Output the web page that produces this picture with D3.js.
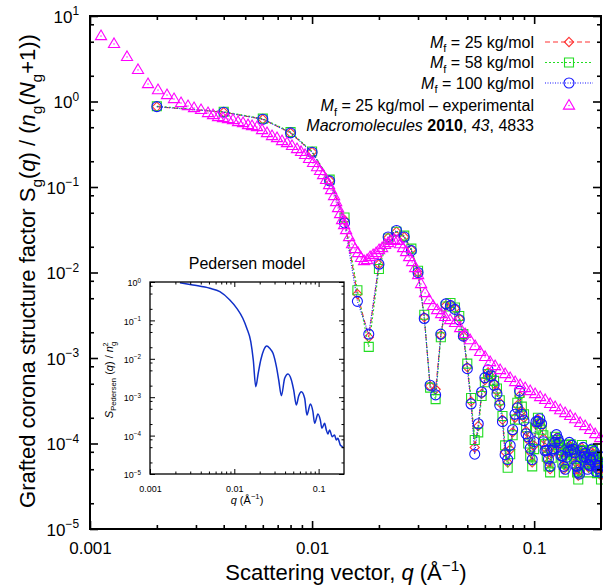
<!DOCTYPE html>
<html>
<head>
<meta charset="utf-8">
<script src="https://cdn.jsdelivr.net/npm/d3@7"></script>
<style>
  body { margin: 0; background: #fff; }
  svg { display: block; font-family: "Liberation Sans", Arial, Helvetica, sans-serif; }
</style>
</head>
<body>
<svg id="chart" width="603" height="587"></svg>
<script>
// ---- Simulated grafted-corona structure factor, q in 1/Å ----
const qSim = [
  0.002, 0.004, 0.006, 0.008, 0.010, 0.012, 0.014, 0.016, 0.018, 0.020,
  0.022, 0.024, 0.026, 0.028, 0.030, 0.032, 0.034, 0.036, 0.038, 0.040,
  0.042, 0.044, 0.046, 0.048, 0.050, 0.052, 0.054, 0.056, 0.058, 0.060,
  0.062, 0.064, 0.066, 0.068, 0.070, 0.072, 0.074, 0.076, 0.078, 0.080,
  0.082, 0.084, 0.086, 0.088, 0.090, 0.092, 0.094, 0.096, 0.098, 0.100,
  0.102, 0.104, 0.106, 0.108, 0.110, 0.112, 0.114, 0.116, 0.118, 0.120,
  0.122, 0.124, 0.126, 0.128, 0.130, 0.132, 0.134, 0.136, 0.138, 0.140,
  0.142, 0.144, 0.146, 0.148, 0.150, 0.152, 0.154, 0.156, 0.158, 0.160,
  0.162, 0.164, 0.166, 0.168, 0.170, 0.172, 0.174, 0.176, 0.178, 0.180,
  0.182, 0.184, 0.186, 0.188, 0.190, 0.192, 0.194, 0.196, 0.198, 0.200
];
const sM25 = [
  0.87, 0.75, 0.62, 0.43, 0.257, 0.119, 0.041, 5.6e-3, 1.75e-3, 1.25e-2,
  2.55e-2, 3.0e-2, 2.6e-2, 1.85e-2, 1.0e-2, 3.0e-3, 4.7e-4, 4.3e-4, 1.85e-3, 4.1e-3,
  4.2e-3, 3.8e-3, 2.9e-3, 1.8e-3, 7.8e-4, 3.1e-4, 9.0e-5, 1.6e-4, 3.8e-4, 5.5e-4,
  6.8e-4, 6.0e-4, 5.0e-4, 4.1e-4, 3.0e-4, 1.9e-4, 8.0e-5, 6.0e-5, 8.5e-5, 1.35e-4,
  2.0e-4, 2.8e-4, 3.6e-4, 2.4e-4, 2.0e-4, 1.4e-4, 1.1e-4, 8.0e-5, 6.0e-5, 9.5e-5,
  1.66e-4, 1.91e-4, 1.82e-4, 1.58e-4, 1.15e-4, 8.9e-5, 7.6e-5, 6.0e-5, 5.0e-5, 7.6e-5,
  9.5e-5, 1.12e-4, 1.17e-4, 1.05e-4, 9.5e-5, 7.9e-5, 6.6e-5, 5.0e-5, 5.5e-5, 7.6e-5,
  8.9e-5, 9.5e-5, 9.1e-5, 8.7e-5, 7.9e-5, 7.2e-5, 6.0e-5, 5.0e-5, 4.2e-5, 4.8e-5,
  7.6e-5, 8.9e-5, 8.3e-5, 7.6e-5, 7.1e-5, 6.3e-5, 5.5e-5, 5.2e-5, 6.0e-5, 7.2e-5,
  7.9e-5, 7.6e-5, 7.4e-5, 6.3e-5, 5.2e-5, 5.0e-5, 5.6e-5, 6.6e-5, 5.0e-5, 4.2e-5
];
const sM58 = [
  0.88, 0.76, 0.63, 0.44, 0.26, 0.122, 0.044, 6.2e-3, 1.35e-3, 1.1e-2,
  2.5e-2, 3.0e-2, 2.7e-2, 1.9e-2, 1.05e-2, 3.2e-3, 4.5e-4, 3.3e-4, 1.75e-3, 4.0e-3,
  4.4e-3, 3.9e-3, 3.1e-3, 1.9e-3, 8.6e-4, 3.4e-4, 1.1e-4, 1.35e-4, 3.6e-4, 5.2e-4,
  6.5e-4, 6.2e-4, 5.4e-4, 4.4e-4, 3.2e-4, 2.1e-4, 9.5e-5, 5.2e-5, 7.5e-5, 1.25e-4,
  1.9e-4, 3.0e-4, 3.9e-4, 2.7e-4, 2.2e-4, 1.55e-4, 1.0e-4, 7.2e-5, 5.4e-5, 8.6e-5,
  1.5e-4, 2.0e-4, 1.7e-4, 1.45e-4, 1.25e-4, 9.8e-5, 7.0e-5, 5.4e-5, 4.6e-5, 6.8e-5,
  1.05e-4, 1.2e-4, 1.1e-4, 9.6e-5, 8.8e-5, 8.4e-5, 6.0e-5, 4.6e-5, 6.2e-5, 8.4e-5,
  9.6e-5, 8.8e-5, 9.8e-5, 8.0e-5, 7.3e-5, 6.6e-5, 6.6e-5, 4.6e-5, 3.8e-5, 5.4e-5,
  8.4e-5, 9.6e-5, 7.6e-5, 8.2e-5, 6.5e-5, 5.8e-5, 6.0e-5, 4.6e-5, 6.6e-5, 8.0e-5,
  7.2e-5, 8.4e-5, 6.6e-5, 6.9e-5, 5.7e-5, 4.5e-5, 6.1e-5, 6.0e-5, 4.6e-5, 3.8e-5
];
const sM100 = [
  0.87, 0.75, 0.62, 0.43, 0.255, 0.118, 0.038, 4.6e-3, 1.9e-3, 1.25e-2,
  2.6e-2, 3.1e-2, 2.6e-2, 1.8e-2, 1.0e-2, 2.9e-3, 4.8e-4, 3.7e-4, 1.9e-3, 4.3e-3,
  4.1e-3, 3.7e-3, 2.8e-3, 1.8e-3, 7.5e-4, 2.9e-4, 7.5e-5, 1.7e-4, 4.0e-4, 5.9e-4,
  7.3e-4, 6.2e-4, 4.8e-4, 3.8e-4, 2.8e-4, 1.8e-4, 7.4e-5, 6.5e-5, 9.5e-5, 1.45e-4,
  2.2e-4, 2.6e-4, 4.1e-4, 2.2e-4, 1.85e-4, 1.3e-4, 1.2e-4, 8.8e-5, 6.5e-5, 1.05e-4,
  1.8e-4, 1.8e-4, 1.95e-4, 1.7e-4, 1.05e-4, 8.2e-5, 8.3e-5, 6.6e-5, 5.4e-5, 8.3e-5,
  8.7e-5, 1.03e-4, 1.27e-4, 1.14e-4, 1.03e-4, 7.2e-5, 7.2e-5, 5.4e-5, 5.0e-5, 6.9e-5,
  8.1e-5, 1.03e-4, 8.3e-5, 9.5e-5, 8.6e-5, 7.8e-5, 5.5e-5, 5.4e-5, 4.6e-5, 4.4e-5,
  6.9e-5, 8.1e-5, 9.0e-5, 7.0e-5, 7.7e-5, 6.8e-5, 5.0e-5, 5.7e-5, 5.5e-5, 6.5e-5,
  8.6e-5, 6.9e-5, 8.1e-5, 5.7e-5, 4.7e-5, 5.5e-5, 5.1e-5, 7.2e-5, 5.5e-5, 4.6e-5
];

// ---- Experimental data, M_f = 25 kg/mol ----
const qExp = [
  0.001121, 0.001283, 0.001468, 0.001645, 0.001825, 0.002024, 0.002222, 0.002390, 0.002570, 0.002763,
  0.002941, 0.003162, 0.003400, 0.003581, 0.003772, 0.003972, 0.004183, 0.004405, 0.004642, 0.004888,
  0.005148, 0.005366, 0.005652, 0.005952, 0.006268, 0.006601, 0.006952, 0.007323, 0.007713, 0.008123,
  0.008555, 0.008923, 0.009301, 0.009694, 0.01010, 0.01053, 0.01086, 0.01121, 0.01156, 0.01193,
  0.01218, 0.01256, 0.01283, 0.01309, 0.01337, 0.01365, 0.01394, 0.01423, 0.01468, 0.01514,
  0.01561, 0.01611, 0.01662, 0.01715, 0.01769, 0.01825, 0.01883, 0.01942, 0.02003, 0.02067,
  0.02132, 0.02200, 0.02270, 0.02341, 0.02415, 0.02492, 0.02570, 0.02652, 0.02736, 0.02822,
  0.02911, 0.03003, 0.03097, 0.03228, 0.03365, 0.03508, 0.03656, 0.03812, 0.03972, 0.04183,
  0.04405, 0.04642, 0.04888, 0.05148, 0.05423, 0.05712, 0.06015, 0.06335, 0.06672, 0.07027,
  0.07402, 0.07795, 0.08210, 0.08647, 0.09110, 0.09594, 0.1010, 0.1064, 0.1121, 0.1181,
  0.1243, 0.1310, 0.1379, 0.1453, 0.1530, 0.1611, 0.1697, 0.1788, 0.1883, 0.1983
];
const sExp = [
  5.83, 4.71, 3.32, 2.34, 1.60, 1.36, 1.19, 1.07, 0.960, 0.886,
  0.839, 0.796, 0.734, 0.695, 0.659, 0.641, 0.624, 0.608, 0.576, 0.560,
  0.531, 0.517, 0.503, 0.464, 0.428, 0.395, 0.374, 0.345, 0.327, 0.302,
  0.278, 0.257, 0.237, 0.213, 0.191, 0.171, 0.154, 0.138, 0.121, 0.1055,
  0.0922, 0.0785, 0.0668, 0.0568, 0.0483, 0.0411, 0.0359, 0.0314, 0.0260, 0.0215,
  0.0188, 0.0169, 0.0148, 0.01363, 0.0140, 0.01518, 0.01602, 0.0169, 0.0183, 0.01934,
  0.0210, 0.0221, 0.0234, 0.0240, 0.0234, 0.0215, 0.01934, 0.01738, 0.01518, 0.01327,
  0.01129, 0.00935, 0.00734, 0.00576, 0.00477, 0.00406, 0.00364, 0.00327, 0.00302, 0.00278,
  0.00257, 0.00224, 0.00191, 0.00162, 0.00138, 0.00118, 0.00103, 8.98e-4, 8.06e-4, 7.24e-4,
  6.50e-4, 5.84e-4, 5.24e-4, 4.83e-4, 4.46e-4, 4.11e-4, 3.79e-4, 3.50e-4, 3.23e-4, 2.90e-4,
  2.67e-4, 2.46e-4, 2.27e-4, 2.10e-4, 1.93e-4, 1.74e-4, 1.60e-4, 1.44e-4, 1.29e-4, 1.16e-4
];

// ---- Pedersen model (inset) ----
const qPed = [
  0.002265, 0.003228, 0.005129, 0.006737, 0.008846, 0.01071, 0.01261, 0.01406, 0.01568, 0.01679,
  0.01797, 0.01923, 0.02059, 0.02234, 0.02424, 0.02631, 0.02878, 0.03157, 0.03362, 0.03618,
  0.03958, 0.04332, 0.04751, 0.05060, 0.05447, 0.05798, 0.06242, 0.06830, 0.07270, 0.07976,
  0.08560, 0.08969, 0.09811, 0.1047, 0.1094, 0.1178, 0.1234, 0.1288, 0.1349, 0.1452,
  0.1546, 0.1621, 0.1692, 0.1806, 0.1907, 0.1976
];
const sPed = [
  0.959, 0.835, 0.685, 0.559, 0.340, 0.2065, 0.1134, 0.0623, 0.02788, 0.00930,
  0.001877, 0.004268, 0.00930, 0.01696, 0.02154, 0.01877, 0.01390, 0.00623, 0.002805, 0.001094,
  0.003107, 0.004021, 0.002805, 0.001540, 6.26e-4, 1.075e-3, 1.390e-3, 9.36e-4, 3.44e-4, 6.65e-4,
  4.19e-4, 2.09e-4, 3.65e-4, 2.55e-4, 1.55e-4, 2.09e-4, 1.40e-4, 1.10e-4, 1.40e-4, 9.36e-5,
  1.04e-4, 7.68e-5, 8.51e-5, 5.69e-5, 5.14e-5, 4.75e-5
];

// ---- Tick labels ----
const xTickValues = [0.001, 0.01, 0.1];
const xTickLabels = ["0.001", "0.01", "0.1"];
const yTickValues = [1e-5, 1e-4, 1e-3, 1e-2, 1e-1, 1, 10];
const yTickExponents = ["\u22125", "\u22124", "\u22123", "\u22122", "\u22121", "0", "1"];
const insetYTickValues = [1e-5, 1e-4, 1e-3, 1e-2, 1e-1, 1];
const insetYTickExponents = ["\u22125", "\u22124", "\u22123", "\u22122", "\u22121", "0"];

const seriesInfo = [
  { name: "25", values: sM25, color: "#ff3333", dash: "5,3", marker: "diamond" },
  { name: "58", values: sM58, color: "#22dd22", dash: "2,2", marker: "square" },
  { name: "100", values: sM100, color: "#1515ff", dash: "1,1.5", marker: "circle" }
];
const expColor = "#ff00ff";

// ---------------------------------------------------------------
const svg = d3.select("#chart");
const MAIN = { left: 90, top: 16, right: 601, bottom: 529 };
const INSET = { left: 150, top: 282, right: 344, bottom: 474 };

const x = d3.scaleLog().domain([0.001, 0.2]).range([MAIN.left, MAIN.right]);
const y = d3.scaleLog().domain([1e-5, 10]).range([MAIN.bottom, MAIN.top]);
const xi = d3.scaleLog().domain([0.001, 0.2]).range([INSET.left, INSET.right]);
const yi = d3.scaleLog().domain([1e-5, 1]).range([INSET.bottom, INSET.top]);

function minorValues(domain, mults) {
  const out = [];
  const lo = domain[0], hi = domain[1];
  for (let e = Math.floor(Math.log10(lo)); e <= Math.ceil(Math.log10(hi)); e++) {
    for (const m of mults) {
      const v = m * Math.pow(10, e);
      if (v > lo * 1.0001 && v < hi * 0.9999) out.push(v);
    }
  }
  return out;
}

// rich text: parts [{t, i, b, sub, sup, dx}]
function rich(textSel, parts, base) {
  let shift = 0;
  parts.forEach(p => {
    const ts = textSel.append("tspan").text(p.t);
    let target = 0, size = null;
    if (p.sub) { target = base * 0.3; size = base * 0.7; }
    if (p.sup) { target = -base * 0.42; size = base * 0.7; }
    const dy = target - shift;
    if (dy) ts.attr("dy", dy.toFixed(2));
    shift = target;
    if (p.dx) ts.attr("dx", p.dx);
    if (size) ts.attr("font-size", size.toFixed(2));
    if (p.i) ts.attr("font-style", "italic");
    if (p.b) ts.attr("font-weight", "bold");
  });
}

function drawFrameAxes(g, xs, ys, o) {
  const [xl, xr] = xs.range();
  const [yb, yt] = ys.range();
  const xMinor = minorValues(xs.domain(), [2, 3, 4, 5, 6, 7, 8, 9]);
  const yMinor = minorValues(ys.domain(), [2, 5, 8]);
  const clean = sel => {
    sel.select(".domain").remove();
    sel.attr("font-family", null).attr("font-size", o.fontSize);
    sel.selectAll(".tick line").attr("stroke", "#000").attr("stroke-width", o.tickWidth);
    sel.selectAll(".tick text").attr("fill", "#000");
  };
  // bottom
  g.append("g").attr("transform", `translate(0,${yb})`)
    .call(d3.axisBottom(xs).tickValues(o.xMajor).tickSize(-o.major).tickPadding(o.xPad)
      .tickFormat((d, i) => o.xLabels[i]))
    .call(clean);
  g.append("g").attr("transform", `translate(0,${yb})`)
    .call(d3.axisBottom(xs).tickValues(xMinor).tickSize(-o.minor).tickFormat(""))
    .call(clean);
  // top
  g.append("g").attr("transform", `translate(0,${yt})`)
    .call(d3.axisTop(xs).tickValues(o.xMajor).tickSize(-o.major).tickFormat(""))
    .call(clean);
  g.append("g").attr("transform", `translate(0,${yt})`)
    .call(d3.axisTop(xs).tickValues(xMinor).tickSize(-o.minor).tickFormat(""))
    .call(clean);
  // left
  const gl = g.append("g").attr("transform", `translate(${xl},0)`)
    .call(d3.axisLeft(ys).tickValues(o.yMajor).tickSize(-o.major).tickPadding(o.yPad).tickFormat(() => ""))
    .call(clean);
  gl.selectAll(".tick text").each(function (d, i) {
    const t = d3.select(this);
    t.attr("dy", o.yDy);
    rich(t, [{ t: "10" }, { t: o.yExp[i], sup: true }], o.fontSize);
  });
  g.append("g").attr("transform", `translate(${xl},0)`)
    .call(d3.axisLeft(ys).tickValues(yMinor).tickSize(-o.minor).tickFormat(""))
    .call(clean);
  // right
  g.append("g").attr("transform", `translate(${xr},0)`)
    .call(d3.axisRight(ys).tickValues(o.yMajor).tickSize(-o.major).tickFormat(""))
    .call(clean);
  g.append("g").attr("transform", `translate(${xr},0)`)
    .call(d3.axisRight(ys).tickValues(yMinor).tickSize(-o.minor).tickFormat(""))
    .call(clean);
  // frame
  g.append("rect")
    .attr("x", xl).attr("y", yt).attr("width", xr - xl).attr("height", yb - yt)
    .attr("fill", "none").attr("stroke", "#000").attr("stroke-width", o.frameWidth);
}

// marker path generators
function markerPath(type) {
  if (type === "diamond") return "M0,-4.6L4.6,0L0,4.6L-4.6,0Z";
  if (type === "square") return "M-4.5,-4.5H4.5V4.5H-4.5Z";
  if (type === "triangle") return "M0,-6L5.6,3.6L-5.6,3.6Z";
  return null;
}
function drawMarker(g, type, cx, cy, color) {
  if (type === "circle") {
    g.append("circle").attr("cx", cx).attr("cy", cy).attr("r", 5)
      .attr("fill", "none").attr("stroke", color).attr("stroke-width", 1.1);
  } else {
    g.append("path").attr("d", markerPath(type))
      .attr("transform", `translate(${cx},${cy})`)
      .attr("fill", "none").attr("stroke", color).attr("stroke-width", 1.1);
  }
  if (type === "triangle") {
    g.append("rect").attr("x", cx - 0.6).attr("y", cy - 0.6).attr("width", 1.2).attr("height", 1.2)
      .attr("fill", color);
  }
}

// ================= Main plot =================
const main = svg.append("g");

// simulation series
const plotG = main.append("g");
seriesInfo.forEach(s => {
  const pts = qSim.map((q, i) => [q, s.values[i]]);
  const line = d3.line().x(d => x(d[0])).y(d => y(d[1]));
  const g = plotG.append("g");
  g.append("path").attr("d", line(pts))
    .attr("fill", "none").attr("stroke", s.color).attr("stroke-width", 1.1)
    .attr("stroke-dasharray", s.dash);
  pts.forEach(d => drawMarker(g, s.marker, x(d[0]), y(d[1]), s.color));
});

// experimental points
const expG = plotG.append("g");
qExp.forEach((q, i) => drawMarker(expG, "triangle", x(q), y(sExp[i]), expColor));

drawFrameAxes(main, x, y, {
  xMajor: xTickValues, xLabels: xTickLabels, yMajor: yTickValues, yExp: yTickExponents,
  major: 8, minor: 4, tickWidth: 1.6, frameWidth: 2, fontSize: 17,
  xPad: 13, yPad: 11, yDy: "0.36em"
});

// legend
const legendRows = [
  { parts: [{ t: "M", i: true }, { t: "f", sub: true }, { t: " = 25 kg/mol" }], y: 42, s: seriesInfo[0] },
  { parts: [{ t: "M", i: true }, { t: "f", sub: true }, { t: " = 58 kg/mol" }], y: 62.5, s: seriesInfo[1] },
  { parts: [{ t: "M", i: true }, { t: "f", sub: true }, { t: " = 100 kg/mol" }], y: 83, s: seriesInfo[2] },
  { parts: [{ t: "M", i: true }, { t: "f", sub: true }, { t: " = 25 kg/mol \u2013 experimental" }], y: 105.5, exp: true },
  { parts: [{ t: "Macromolecules", i: true }, { t: " " }, { t: "2010", b: true }, { t: ", " }, { t: "43", i: true }, { t: ", 4833" }], y: 125 }
];
const legG = main.append("g");
legendRows.forEach(r => {
  const t = legG.append("text").attr("x", 534).attr("y", r.y).attr("dy", "0.35em")
    .attr("text-anchor", "end").attr("font-size", 16).attr("fill", "#000");
  rich(t, r.parts, 16);
  if (r.s) {
    legG.append("line").attr("x1", 545).attr("x2", 593).attr("y1", r.y).attr("y2", r.y)
      .attr("stroke", r.s.color).attr("stroke-width", 1.1).attr("stroke-dasharray", r.s.dash);
    drawMarker(legG, r.s.marker, 569, r.y, r.s.color);
  }
  if (r.exp) drawMarker(legG, "triangle", 569, r.y, expColor);
});

// axis titles
const xTitle = main.append("text").attr("x", 346).attr("y", 580)
  .attr("text-anchor", "middle").attr("font-size", 22).attr("fill", "#000");
rich(xTitle, [{ t: "Scattering vector, " }, { t: "q", i: true }, { t: " (\u00C5" }, { t: "\u22121", sup: true }, { t: ")" }], 22);

const yTitle = main.append("text").attr("transform", "translate(35,271) rotate(-90)")
  .attr("text-anchor", "middle").attr("font-size", 22).attr("fill", "#000");
rich(yTitle, [
  { t: "Grafted corona structure factor S" }, { t: "g", sub: true }, { t: "(" },
  { t: "q", i: true }, { t: ") / (" }, { t: "n", i: true }, { t: "g", sub: true },
  { t: "(" }, { t: "N", i: true }, { t: "g", sub: true }, { t: "+1))" }
], 22);

// ================= Inset =================
const inset = svg.append("g");
inset.append("rect").attr("x", INSET.left).attr("y", INSET.top)
  .attr("width", INSET.right - INSET.left).attr("height", INSET.bottom - INSET.top).attr("fill", "#fff");

const pedLine = d3.line().x(d => xi(d[0])).y(d => yi(d[1])).curve(d3.curveMonotoneX);
inset.append("path").attr("d", pedLine(qPed.map((q, i) => [q, sPed[i]])))
  .attr("fill", "none").attr("stroke", "#1030c8").attr("stroke-width", 1.5);

drawFrameAxes(inset, xi, yi, {
  xMajor: xTickValues, xLabels: xTickLabels, yMajor: insetYTickValues, yExp: insetYTickExponents,
  major: 5, minor: 2.5, tickWidth: 1, frameWidth: 1.3, fontSize: 9,
  xPad: 12, yPad: 9, yDy: "0.42em"
});

inset.append("text").attr("x", 247).attr("y", 269)
  .attr("text-anchor", "middle").attr("font-size", 16).attr("fill", "#000").text("Pedersen model");

const ixTitle = inset.append("text").attr("x", 247).attr("y", 504)
  .attr("text-anchor", "middle").attr("font-size", 11).attr("fill", "#000");
rich(ixTitle, [{ t: "q", i: true }, { t: " (\u00C5" }, { t: "\u22121", sup: true }, { t: ")" }], 11);

const iyTitle = inset.append("text").attr("transform", "translate(113,380) rotate(-90)")
  .attr("text-anchor", "middle").attr("font-size", 11).attr("fill", "#000");
rich(iyTitle, [
  { t: "S", i: true }, { t: "Pedersen", sub: true }, { t: " (" }, { t: "q", i: true },
  { t: ") / " }, { t: "n", i: true }, { t: "g", sub: true }, { t: "2", sup: true, dx: -5 }
], 11);
</script>
</body>
</html>
